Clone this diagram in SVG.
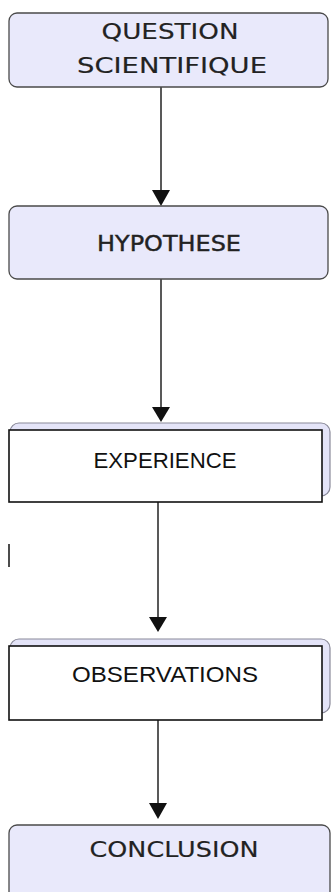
<svg xmlns="http://www.w3.org/2000/svg" width="331" height="892" viewBox="0 0 331 892">
<style>
.round{fill:#e9e9fb;stroke:#4a4a4a;stroke-width:1.3}
.back{fill:#e4e4f8;stroke:#8a8a9a;stroke-width:1.2}
.front{fill:#ffffff;stroke:#111;stroke-width:1.6}
.comic{font-family:"DejaVu Sans",sans-serif;font-size:21px;fill:#222;stroke:#222;stroke-width:0.15;text-anchor:middle}
.cal{font-family:"Liberation Sans",sans-serif;font-size:22px;fill:#111;text-anchor:middle}
.edge{stroke:#222;stroke-width:1.5;fill:none}
</style>
<rect width="331" height="892" fill="#ffffff"/>
<g id="connectors">
<line class="edge" x1="161" y1="87" x2="161" y2="190"/><path d="M152,190 L170,190 L161,206 Z" fill="#111"/>
<line class="edge" x1="161" y1="279" x2="161" y2="407"/><path d="M152,407 L170,407 L161,422 Z" fill="#111"/>
<line class="edge" x1="158" y1="502" x2="158" y2="617"/><path d="M149,617 L167,617 L158,632 Z" fill="#111"/>
<line class="edge" x1="158" y1="720" x2="158" y2="803"/><path d="M149,803 L167,803 L158,819 Z" fill="#111"/>
<line x1="9" y1="544" x2="9" y2="567" stroke="#111" stroke-width="1.5"/>
</g>
<g id="question">
<rect class="round" x="9" y="13" width="319" height="74" rx="8"/>
<text class="comic" x="170" y="39" textLength="137" lengthAdjust="spacingAndGlyphs">QUESTION</text>
<text class="comic" x="172" y="73" textLength="190" lengthAdjust="spacingAndGlyphs">SCIENTIFIQUE</text>
</g>
<g id="hypothese">
<rect class="round" x="9" y="206" width="319" height="73" rx="8"/>
<text class="comic" x="169" y="251" textLength="144" lengthAdjust="spacingAndGlyphs" style="font-size:22px;stroke-width:0.4">HYPOTHESE</text>
</g>
<g id="experience">
<rect class="back" x="10" y="423" width="320" height="73" rx="9"/>
<rect class="front" x="9" y="430" width="313" height="72"/>
<text class="cal" x="165" y="468" textLength="143" lengthAdjust="spacingAndGlyphs">EXPERIENCE</text>
</g>
<g id="observations">
<rect class="back" x="10" y="639" width="320" height="74" rx="9"/>
<rect class="front" x="9" y="646" width="313" height="74"/>
<text class="cal" x="165" y="682" textLength="186" lengthAdjust="spacingAndGlyphs">OBSERVATIONS</text>
</g>
<g id="conclusion">
<rect class="round" x="9" y="825" width="321" height="90" rx="8"/>
<text class="comic" x="174" y="857" textLength="169" lengthAdjust="spacingAndGlyphs">CONCLUSION</text>
</g>
</svg>
